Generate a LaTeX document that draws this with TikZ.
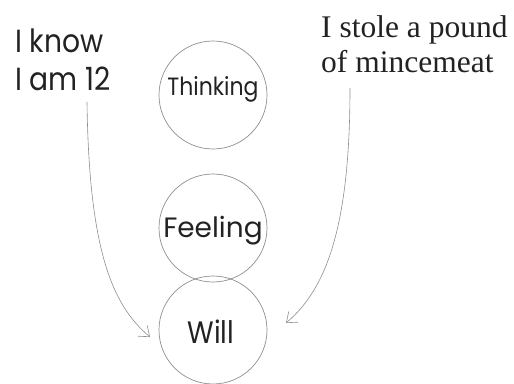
\documentclass[tikz,border=0pt]{standalone}
\usepackage{fontspec}
\setmainfont{Liberation Serif}
\newfontfamily\gothic[FakeStretch=0.88]{Poppins}
\newfontfamily\gothicw{Poppins}
\usetikzlibrary{arrows.meta}
\definecolor{ink}{HTML}{222222}
\definecolor{rim}{HTML}{8E8E8E}
\tikzset{
  ring/.style={circle,draw=rim,line width=0.7pt,minimum size=108pt,inner sep=0pt},
  word/.style={inner sep=0pt,text=ink},
  note/.style={inner sep=0pt,text=ink,align=left},
  flow/.style={draw=rim,line width=0.6pt,-{Straight Barb[length=9pt,width=14pt]}}
}
\begin{document}
\begin{tikzpicture}[x=1pt,y=1pt]
  \useasboundingbox (0,0) rectangle (514,-383);
  % the three circles
  \node[ring] (think) at (213,-95) {};
  \node[ring] (feel)  at (213,-228) {};
  \node[ring] (will)  at (213,-330) {};
  % circle labels
  \node[word,font=\gothic\fontsize{25}{25}\selectfont,anchor=base] (thinkt) at (213,-95) {Thinking};
  \node[word,font=\gothicw\fontsize{28}{28}\selectfont,anchor=base] (feelt) at (213,-237) {Feeling};
  \node[word,font=\gothic\fontsize{31}{31}\selectfont,anchor=base] (willt) at (211,-343) {Will};
  % side notes
  \node[word,font=\gothic\fontsize{32}{32}\selectfont,anchor=base west] (know1) at (15,-52) {I know};
  \node[word,font=\gothic\fontsize{32}{32}\selectfont,anchor=base west] (know2) at (15,-90) {I am 12};
  \node[note,font=\fontsize{31.5}{35}\selectfont,anchor=base west] (stole1) at (321,-37) {I stole a pound};
  \node[note,font=\fontsize{31.5}{35}\selectfont,anchor=base west] (stole2) at (321,-72) {of mincemeat};
  % arrow ends
  \coordinate (ls) at (87,-102);
  \coordinate (le) at (150,-337);
  \coordinate (rs) at (350,-88);
  \coordinate (re) at (286,-323);
  \draw[flow] (ls) .. controls (89,-250) and (112,-305) .. (le);
  \draw[flow] (rs) .. controls (350,-230) and (325,-290) .. (re);
\end{tikzpicture}
\end{document}
